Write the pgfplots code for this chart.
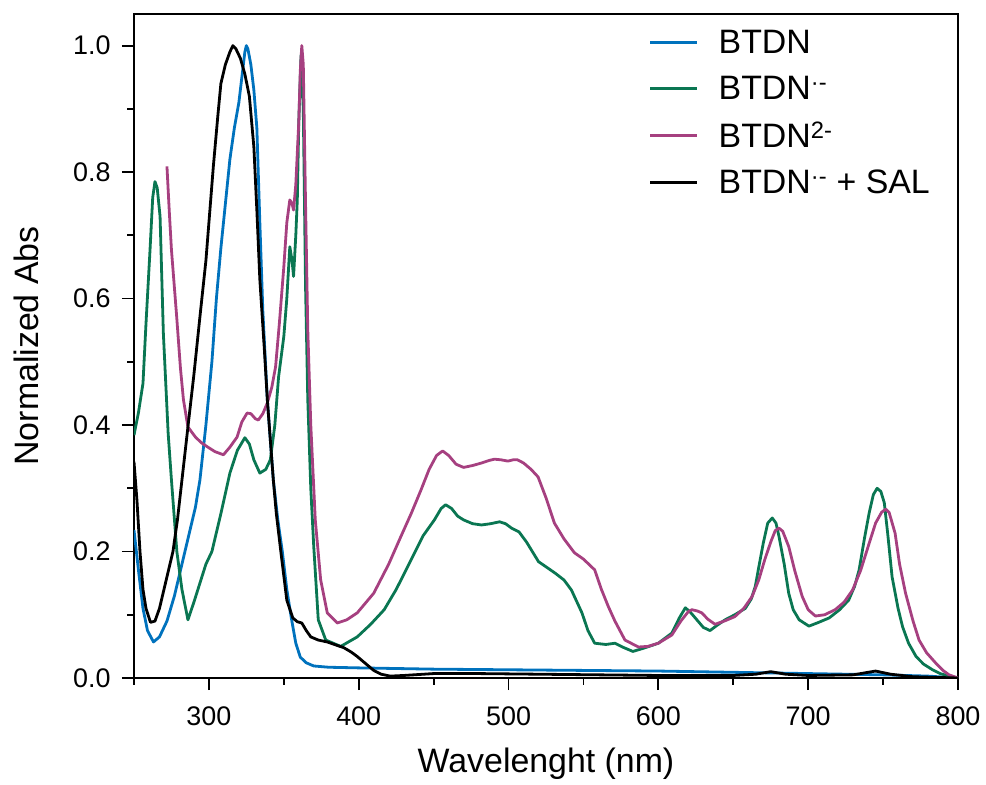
\documentclass[border=0pt]{standalone}
\usepackage{pgfplots}
\pgfplotsset{compat=1.18}
\usepackage{fontspec}
\setmainfont{Liberation Sans}
\usetikzlibrary{calc}
\definecolor{cblue}{RGB}{0,114,189}
\definecolor{cgreen}{RGB}{10,118,82}
\definecolor{cpurple}{RGB}{166,64,128}
\begin{document}
\begin{tikzpicture}
\begin{axis}[
  scale only axis, width=824bp, height=664bp,
  xmin=250, xmax=800, ymin=0, ymax=1.05,
  xtick={300,400,500,600,700,800},
  minor xtick={250,350,450,550,650,750},
  ytick={0,0.2,0.4,0.6,0.8,1.0},
  minor ytick={0.1,0.3,0.5,0.7,0.9},
  tick align=outside, tick pos=left,
  tickwidth=12bp, subtickwidth=6.5bp,
  axis line style={line width=1.8bp},
  every tick/.append style={line width=1.8bp, black},
  /pgf/number format/assume math mode=true,
  yticklabel style={/pgf/number format/.cd, fixed, fixed zerofill, precision=1},
  ticklabel style={font=\fontsize{27}{32}\selectfont},
  xticklabel shift=13bp, yticklabel shift=8bp,
  xlabel={Wavelenght (nm)}, ylabel={Normalized Abs},
  xlabel shift=16bp, ylabel shift=27bp,
  label style={font=\fontsize{34}{41}\selectfont},
  legend style={draw=none, fill=none, at={(rel axis cs:0.621,0.982)}, anchor=north west,
    font=\fontsize{34}{40}\selectfont, row sep=17bp, column sep=18bp},
  legend cell align=left,
  legend image code/.code={\draw[#1, line width=2.8bp] (0bp,0bp) -- (47bp,0bp);},
  every axis plot/.append style={line width=2.8bp, line join=round},
]
\addplot[cblue, line width=2.8bp] coordinates {
(250,0.234) (253,0.17) (256,0.11) (259,0.075) (263,0.057) (267,0.065) (272,0.09) (277,0.13) (282,0.18) (287,0.23) (291,0.27) (294,0.313) (298,0.40) (302,0.50) (305,0.60) (308,0.68) (311,0.75) (314,0.82) (317,0.87) (320,0.91) (322,0.95) (324,0.99) (325,1.0) (326,0.995) (328,0.97) (330,0.93) (332,0.87) (334,0.72) (336,0.58) (339,0.44) (343,0.313) (346,0.25) (349,0.2) (352,0.14) (355,0.095) (358,0.055) (361,0.033) (365,0.024) (370,0.019) (380,0.017) (400,0.016) (450,0.014) (500,0.013) (550,0.012) (600,0.011) (650,0.009) (700,0.007) (750,0.005) (780,0.003) (800,0.0)
};
\addlegendentry{BTDN}
\addplot[cgreen, line width=2.8bp] coordinates {
(250,0.384) (253,0.42) (256,0.466) (258,0.56) (260.7,0.677) (262.5,0.76) (264,0.785) (265.5,0.775) (267.4,0.73) (269.6,0.545) (272.8,0.387) (275,0.313) (278.6,0.2) (282,0.14) (286,0.092) (290,0.12) (294,0.15) (298,0.18) (302,0.2) (308,0.26) (314,0.324) (319,0.36) (324,0.38) (327,0.37) (330,0.345) (334,0.324) (338,0.33) (341,0.345) (344,0.4) (346.5,0.476) (350,0.54) (352,0.6) (354,0.682) (355.5,0.66) (356.5,0.635) (358,0.7) (359,0.756) (360,0.88) (361.5,0.985) (363,0.9) (364.5,0.62) (366,0.44) (368,0.3) (370,0.207) (373,0.092) (378,0.06) (388,0.05) (399,0.065) (408,0.085) (417,0.108) (425,0.14) (435,0.187) (443,0.225) (450.5,0.25) (455,0.268) (458,0.274) (462,0.268) (466,0.256) (470,0.25) (476,0.244) (482,0.242) (488,0.244) (494,0.247) (498,0.244) (502,0.237) (507,0.231) (512,0.215) (520,0.184) (531,0.166) (537,0.155) (542,0.139) (549,0.103) (553,0.075) (557.5,0.055) (565,0.053) (571,0.055) (577,0.048) (583,0.042) (590,0.047) (600,0.055) (609,0.071) (614,0.095) (618,0.111) (621,0.105) (625.7,0.092) (630,0.08) (634.5,0.075) (639,0.083) (644.5,0.092) (651,0.1) (658,0.11) (662,0.125) (664.7,0.145) (667,0.175) (670,0.213) (673,0.245) (676,0.253) (678.5,0.245) (680.5,0.224) (684,0.18) (687,0.134) (690,0.108) (694,0.092) (700.5,0.082) (707,0.088) (714,0.095) (721,0.108) (727,0.123) (731,0.145) (734,0.171) (737.5,0.22) (740.7,0.261) (743.5,0.29) (746,0.30) (748.5,0.295) (750.8,0.277) (753,0.23) (756,0.16) (760,0.11) (763,0.081) (767,0.055) (772,0.034) (777,0.022) (783,0.013) (788,0.007) (794,0.003) (800,0.0)
};
\addlegendentry{BTDN\textsuperscript{·-}}
\addplot[cpurple, line width=2.8bp] coordinates {
(272,0.809) (273.5,0.74) (275,0.677) (278.5,0.571) (281,0.49) (283,0.44) (286,0.397) (291,0.381) (295,0.372) (298.7,0.366) (304,0.358) (309.7,0.353) (314,0.365) (318.8,0.381) (322,0.405) (325.5,0.419) (328,0.418) (331,0.41) (333,0.408) (336,0.418) (339,0.435) (342,0.46) (344.5,0.492) (347,0.56) (350,0.65) (352,0.72) (354,0.756) (355.5,0.75) (356.5,0.74) (358,0.78) (360,0.88) (361,0.96) (362,1.0) (363,0.97) (364.5,0.75) (366,0.55) (368,0.4) (371,0.25) (374.6,0.155) (379,0.103) (385.7,0.087) (392,0.092) (399,0.103) (410,0.134) (420,0.18) (428,0.223) (435,0.26) (441.5,0.297) (447,0.33) (452,0.352) (456,0.359) (460,0.352) (465,0.338) (470,0.333) (476,0.336) (482,0.34) (487,0.344) (490.6,0.346) (495,0.345) (499.6,0.343) (503,0.345) (506,0.345) (510,0.34) (515,0.33) (519.7,0.318) (525,0.285) (530.6,0.245) (537,0.22) (544,0.198) (550,0.188) (557.5,0.171) (562,0.14) (566.6,0.113) (571,0.09) (577.7,0.06) (586.7,0.049) (593,0.05) (600,0.055) (609,0.068) (615,0.09) (620,0.105) (622.4,0.108) (626,0.106) (629,0.103) (633,0.093) (637.8,0.085) (644,0.09) (651,0.097) (657,0.11) (662.6,0.129) (667,0.155) (671,0.187) (675,0.215) (678,0.233) (680.5,0.237) (683,0.232) (687,0.208) (691,0.17) (696,0.129) (700,0.108) (704.8,0.098) (711,0.1) (718,0.108) (724,0.12) (729.6,0.139) (735,0.17) (740.7,0.213) (745,0.245) (749,0.262) (751.7,0.267) (754,0.262) (758,0.229) (761,0.18) (765,0.134) (770,0.09) (774,0.06) (779,0.04) (785,0.024) (790,0.012) (794,0.005) (800,0.0)
};
\addlegendentry{BTDN\textsuperscript{2-}}
\addplot[black, line width=2.8bp] coordinates {
(250,0.342) (252,0.28) (254,0.2) (256,0.14) (258,0.11) (261,0.088) (264,0.09) (267,0.11) (270,0.14) (273,0.17) (276,0.2) (279,0.25) (282,0.313) (286,0.397) (290,0.48) (294,0.571) (298,0.66) (301,0.75) (303,0.81) (306,0.89) (308,0.94) (311,0.97) (314,0.99) (316,1.0) (318,0.995) (321,0.98) (324,0.955) (327,0.92) (330,0.84) (332,0.74) (334,0.63) (337,0.52) (339,0.44) (343,0.313) (345,0.26) (348,0.2) (352,0.123) (356,0.095) (359,0.089) (362,0.087) (365,0.075) (368,0.065) (373,0.06) (379,0.057) (385,0.052) (390,0.048) (395,0.041) (399,0.034) (405,0.022) (410,0.012) (415,0.006) (421,0.003) (430,0.004) (450,0.007) (480,0.007) (520,0.006) (560,0.005) (600,0.004) (650,0.004) (665,0.006) (675,0.01) (685,0.006) (700,0.004) (730,0.005) (745,0.011) (755,0.006) (770,0.002) (800,0)
};
\addlegendentry{BTDN\textsuperscript{·-} + SAL}
\coordinate (bl) at (rel axis cs:0,0);
\coordinate (tr) at (rel axis cs:1,1);
\end{axis}
\pgfresetboundingbox
\path ($(bl)+(-134bp,-107bp)$) rectangle ($(tr)+(28bp,14bp)$);
\end{tikzpicture}
\end{document}
